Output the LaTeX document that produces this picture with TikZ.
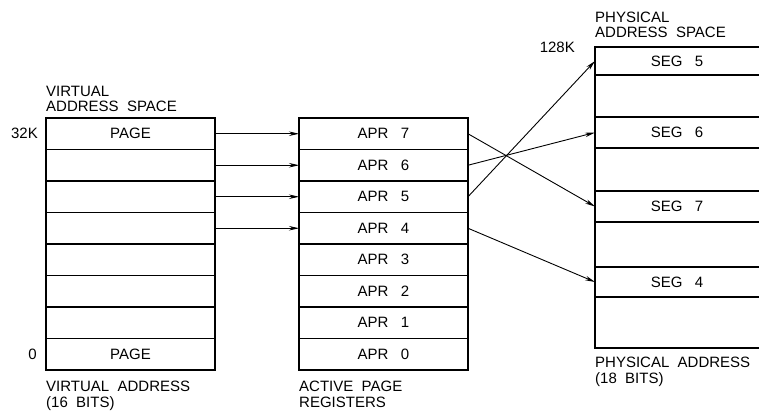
\documentclass[tikz,border=0pt]{standalone}
\usepackage{fontspec}
\setmainfont{Liberation Sans}
\usetikzlibrary{arrows.meta,positioning}

\begin{document}
\begin{tikzpicture}[x=1pt,y=1pt,>={Stealth[length=10pt,width=4.5pt]},
 font=\fontsize{15}{15.5}\selectfont,
 cell/.style={draw,line width=1.1pt,minimum width=169pt,minimum height=31.5pt,inner sep=0pt,outer sep=0pt},
 seg/.style={minimum width=164pt,minimum height=30pt,inner sep=0pt,outer sep=0pt},
 frame/.style={line width=1.8pt},
 link/.style={->,line width=0.9pt},
 caption/.style={align=left,inner sep=0pt}]
\useasboundingbox (0,0) rectangle (759,411);
\foreach \i in {1,...,6} \node[cell] (v\i) at (130.5,56.75+31.5*\i) {};
\node[cell] (v0) at (130.5,56.75) {PAGE};
\node[cell] (v7) at (130.5,277.25) {PAGE};
\foreach \i in {0,...,7} \node[cell] (a\i) at (383.5,56.75+31.5*\i) {APR~~~\i};
\draw[frame] (v0.south west) rectangle (v7.north east);
\draw[frame] (a0.south west) rectangle (a7.north east);
\coordinate (ptop) at (595,364);\coordinate (pbot) at (595,63);
\draw[frame] (759,364) -- (ptop) -- (pbot) -- (759,63);
\foreach \y in {336,294,263,220,189,144,114} \draw[line width=1.1pt] (595,\y) -- (759,\y);
\foreach \n/\y in {5/350,6/278.5,7/204.5,4/129} \node[seg] (s\n) at (677,\y) {SEG~~~\n};
\foreach \i in {4,...,7} {
 \draw[link] (v\i.east) -- (a\i.west);
 \draw[link] (a\i.east) -- (s\i.west);
}
\node[caption,left=8pt of v7.west] (k32) {32K};
\node[caption,left=9pt of v0.west] (k0) {0};
\node[caption,left=20pt of ptop] (k128) {128K};
\node[caption,above=6pt of v7.north west,anchor=south west] (vtop) {VIRTUAL\\ADDRESS~~SPACE};
\node[caption,below=11pt of v0.south west,anchor=north west] (vbot) {VIRTUAL~~ADDRESS\\(16~~BITS)};
\node[caption,below=11pt of a0.south west,anchor=north west] (abot) {ACTIVE~~PAGE\\REGISTERS};
\node[caption,above=9pt of ptop,anchor=south west] (ptopl) {PHYSICAL\\ADDRESS~~SPACE};
\node[caption,below=9pt of pbot,anchor=north west] (pbotl) {PHYSICAL~~ADDRESS\\(18~~BITS)};
\end{tikzpicture}
\end{document}
